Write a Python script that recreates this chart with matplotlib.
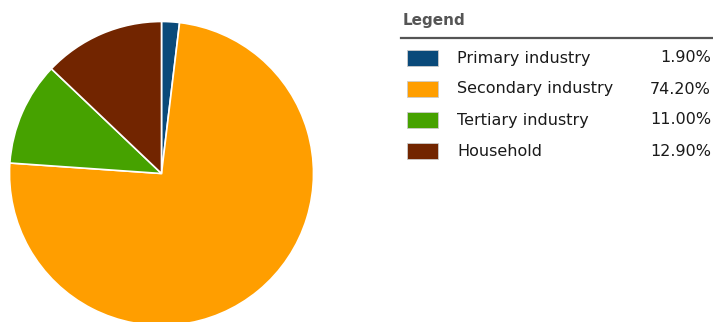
import matplotlib
matplotlib.use("Agg")
import matplotlib.pyplot as plt
from matplotlib.patches import Rectangle
from matplotlib.lines import Line2D

categories = ["Primary industry", "Secondary industry", "Tertiary industry", "Household"]
values = [1.90, 74.20, 11.00, 12.90]
value_labels = ["1.90%", "74.20%", "11.00%", "12.90%"]
colors = ["#0a4a7a", "#ff9e00", "#46a200", "#722500"]

W, H = 713, 322
fig = plt.figure(figsize=(W / 100, H / 100), dpi=100)
fig.patch.set_facecolor("white")

ax = fig.add_axes([0, 0, 1, 1])
cx, cy, r = 161.5, H - 173.5, 152
ax.pie(values, colors=colors, startangle=90, counterclock=False,
       center=(cx, cy), radius=r,
       wedgeprops=dict(edgecolor="white", linewidth=1.2))
ax.set_xlim(0, W)
ax.set_ylim(0, H)
ax.set_aspect("auto")
ax.axis("off")

def fx(x):
    return x / W

def fy(y):
    return 1 - y / H

fs = 11.5
fig.text(fx(403), fy(21), "Legend", fontsize=11, fontweight="bold", color="#555555",
         ha="left", va="center", family="DejaVu Sans")
fig.add_artist(Line2D([fx(401), fx(713)], [fy(38), fy(38)], color="#555555", linewidth=1.6,
                      transform=fig.transFigure))

row_y = [58, 89, 120, 151]
for cat, lab, col, y in zip(categories, value_labels, colors, row_y):
    fig.add_artist(Rectangle((fx(407), fy(y + 8)), 31 / W, 16 / H, facecolor=col,
                             edgecolor="#cccccc", linewidth=0.6, transform=fig.transFigure))
    fig.text(fx(457), fy(y), cat, fontsize=fs, color="#1a1a1a", ha="left", va="center",
             family="DejaVu Sans")
    fig.text(fx(711), fy(y), lab, fontsize=fs, color="#1a1a1a", ha="right", va="center",
             family="DejaVu Sans")

fig.savefig("out.png", dpi=100)
